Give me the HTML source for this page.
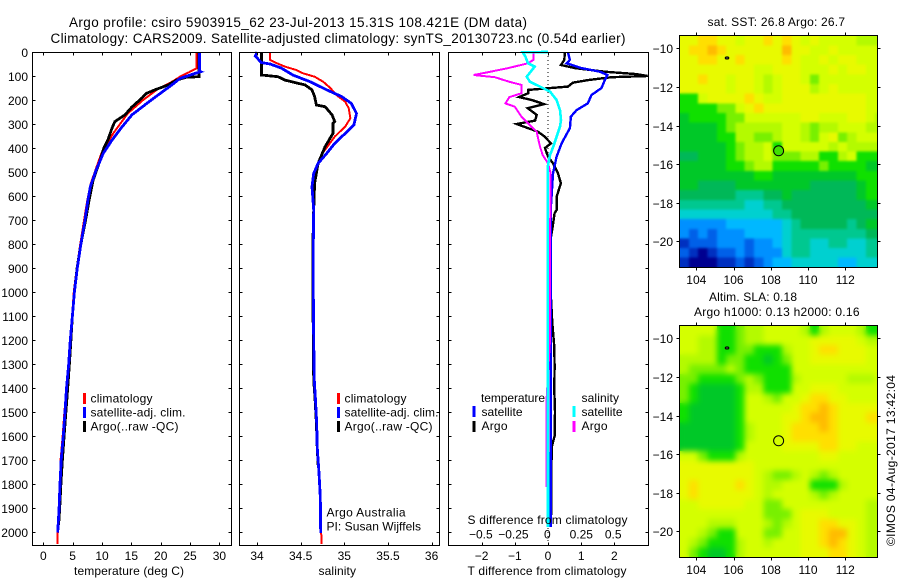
<!DOCTYPE html>
<html lang="en">
<head>
<meta charset="utf-8">
<title>Argo profile csiro 5903915_62</title>
<style>
html,body{margin:0;padding:0;background:#fff;}
svg{display:block;font-family:"Liberation Sans",sans-serif;font-size:12px;fill:#000;}
.line{fill:none;shape-rendering:crispEdges;stroke-linejoin:miter;}
.frame{fill:none;stroke:#000;stroke-width:1;shape-rendering:crispEdges;}
.tick{stroke:#000;stroke-width:1;shape-rendering:crispEdges;}
</style>
</head>
<body>
<svg id="chart" width="900" height="580" viewBox="0 0 900 580" xmlns="http://www.w3.org/2000/svg">
  <defs>
    <clipPath id="clip-sst"><rect x="679.5" y="35.5" width="198" height="232"/></clipPath>
    <clipPath id="clip-sla"><rect x="679.5" y="325.5" width="198" height="232"/></clipPath>
    <filter id="soft-sst" color-interpolation-filters="sRGB"><feGaussianBlur stdDeviation="1.2"/></filter>
    <filter id="soft-sla" color-interpolation-filters="sRGB"><feGaussianBlur stdDeviation="3"/></filter>
  </defs>
  <text x="69" y="27" font-size="13.5" textLength="458">Argo profile: csiro 5903915_62 23-Jul-2013 15.31S 108.421E (DM data)</text>
  <text x="50.5" y="43" font-size="13.5" textLength="575">Climatology: CARS2009. Satellite-adjusted climatology: synTS_20130723.nc (0.54d earlier)</text>

  <g clip-path="url(#clip-sst)">
    <g id="sst-cells"></g>
    <g filter="url(#soft-sst)"><use href="#sst-cells"/></g>
  </g>
  <g clip-path="url(#clip-sla)">
    <g id="sla-cells"></g>
    <g filter="url(#soft-sla)"><use href="#sla-cells"/></g>
  </g>
  <g id="series"></g>

  <rect class="frame" x="32.5" y="52.5" width="199" height="493"/>
  <rect class="frame" x="239.5" y="52.5" width="200" height="493"/>
  <rect class="frame" x="448.5" y="52.5" width="200" height="493"/>
  <rect class="frame" x="679.5" y="35.5" width="198" height="232"/>
  <rect class="frame" x="679.5" y="325.5" width="198" height="232"/>
  <g id="axes"></g>

  <text x="74" y="575" textLength="110">temperature (deg C)</text>
  <text x="318.5" y="575" textLength="37.5">salinity</text>
  <text x="467.5" y="575" textLength="159">T difference from climatology</text>
  <text x="467.5" y="524" textLength="160">S difference from climatology</text>

  <g>
    <rect x="83" y="393" width="3" height="11" fill="#ff0000"/>
    <rect x="83" y="407" width="3" height="11" fill="#0000ff"/>
    <rect x="83" y="421" width="3" height="11" fill="#000000"/>
    <text x="90.5" y="402.5" textLength="62">climatology</text>
    <text x="90.5" y="416.5" textLength="95">satellite-adj. clim.</text>
    <text x="90.5" y="430.5" textLength="88">Argo(..raw -QC)</text>
  </g>
  <g>
    <rect x="337" y="393" width="3" height="11" fill="#ff0000"/>
    <rect x="337" y="407" width="3" height="11" fill="#0000ff"/>
    <rect x="337" y="421" width="3" height="11" fill="#000000"/>
    <text x="344.5" y="402.5" textLength="62">climatology</text>
    <text x="344.5" y="416.5" textLength="94">satellite-adj. clim.</text>
    <text x="344.5" y="430.5" textLength="88">Argo(..raw -QC)</text>
    <text x="326.5" y="516.5" textLength="79">Argo Australia</text>
    <text x="326.5" y="530.5" textLength="94.5">PI: Susan Wijffels</text>
  </g>
  <g>
    <text x="481" y="402" textLength="64">temperature</text>
    <rect x="472.5" y="406" width="3" height="11" fill="#0000ff"/>
    <rect x="472.5" y="421" width="3" height="11" fill="#000000"/>
    <text x="481.5" y="416" textLength="41">satellite</text>
    <text x="481.5" y="430" textLength="26">Argo</text>
    <text x="581.5" y="402" textLength="37.5">salinity</text>
    <rect x="572.5" y="406" width="3" height="11" fill="#00ffff"/>
    <rect x="572.5" y="421" width="3" height="11" fill="#ff00ff"/>
    <text x="581.5" y="416" textLength="41">satellite</text>
    <text x="581.5" y="430" textLength="26">Argo</text>
  </g>

  <text x="707.5" y="26" textLength="137.5">sat. SST: 26.8 Argo: 26.7</text>
  <text x="709" y="301" textLength="88">Altim. SLA: 0.18</text>
  <text x="694" y="316" textLength="165.5">Argo h1000: 0.13 h2000: 0.16</text>
  <text transform="translate(895 546) rotate(-90)" x="0" y="0" textLength="171">©IMOS 04-Aug-2017 13:42:04</text>
</svg>

<script>
/* ---------- depth axis ---------- */
const depthTicks = [0,100,200,300,400,500,600,700,800,900,1000,1100,1200,1300,1400,1500,1600,1700,1800,1900,2000];

/* ---------- temperature panel ---------- */
const temperatureTicks = [0,5,10,15,20,25,30];
const tempClimDepth = [0,68,82,103,124,158,200,256,339,423,477,548,617,700,800,900,1000,1100,1200,1300,1400,1500,1600,1700,1800,1900,2000,2050];
const tempClimValues = [26.1,26.1,25,23.3,21.9,19.3,17,14.4,11.9,9.9,9.1,8.1,7.5,6.95,6.3,5.7,5.2,4.9,4.55,4.3,3.95,3.6,3.3,2.95,2.85,2.7,2.45,2.4];
const tempArgoDepth = [0,103,105,117,137,158,172,192,229,262,290,317,367,400,450,533,617,700,800,900,1000,1100,1200,1300,1400,1500,1600,1700,1800,1900,1970];
const tempArgoValues = [26.5,26.5,24.4,22.7,21.3,19,17.6,16.8,15.1,13.9,12.2,11.7,11,10.3,9.7,8.5,7.8,7.2,6.4,5.75,5.3,4.95,4.7,4.45,4.15,3.85,3.55,3.25,3,2.8,2.6];
const tempSatDepth = [0,80,82,96,110,137,173,215,262,312,367,423,492,562,617,700,800,900,1000,1100,1200,1300,1400,1500,1600,1700,1800,1900,2003];
const tempSatValues = [26.6,26.6,26.8,25,23.3,21.9,19.9,17.6,15.1,13.4,11.7,10.2,9,8,7.6,7.1,6.4,5.8,5.3,4.95,4.6,4.33,3.95,3.7,3.4,3.05,2.85,2.7,2.45];

/* ---------- salinity panel ---------- */
const salinityTicks = [34,34.5,35,35.5,36];
const salClimDepth = [0,33,47,61,75,89,103,124,150,179,207,234,276,311,353,422,464,547,658,800,1000,1200,1367,1450,1547,1646,1754,1854,2004,2050];
const salClimValues = [34.15,34.15,34.23,34.32,34.45,34.53,34.66,34.76,34.84,34.91,35.01,35.05,35.07,35.01,34.89,34.75,34.7,34.66,34.65,34.645,34.645,34.65,34.66,34.67,34.685,34.69,34.71,34.725,34.735,34.74];
const salArgoDepth = [0,96,103,117,128,137,158,186,221,228,262,290,297,339,358,394,429,464,547,658,800,1000,1200,1367,1450,1547,1646,1720];
const salArgoValues = [34.05,34.05,34.24,34.32,34.44,34.55,34.63,34.66,34.68,34.78,34.86,34.89,34.87,34.87,34.84,34.78,34.74,34.7,34.66,34.65,34.64,34.64,34.645,34.65,34.665,34.68,34.69,34.7];
const salSatDepth = [0,17,44,50,67,96,124,158,186,214,256,304,339,381,422,464,506,561,658,800,1000,1200,1367,1450,1547,1646,1754,1854,2004];
const salSatValues = [34,33.98,34.05,34.15,34.28,34.41,34.61,34.8,34.97,35.08,35.14,35.11,35.01,34.89,34.8,34.7,34.65,34.63,34.65,34.645,34.645,34.65,34.656,34.67,34.684,34.69,34.71,34.725,34.73];

/* ---------- difference panel ---------- */
const tDiffTicks = [-2,-1,0,1,2];
const sDiffLabels = ["\u22120.5","\u22120.25","0","0.25","0.5"];
const sDiffLabelValues = [-0.505,-0.26,-0.005,0.25,0.49];
const zeroLineValues = [0,0];
const zeroLineDepth = [0,2050];
const tDiffArgoDepth = [0,33,54,67,82,92,100,105,117,128,144,158,172,188,200,217,234,262,286,300,313,332,353,381,400,436,464,506,547,603,658,672,729,811,950,1129,1228,1311,1408,1500,1600,1646,1800,1962];
const tDiffArgoValues = [0.51,0.49,0.39,0.81,1.71,2.66,3,1.91,1.2,0.75,0.6,-0.6,-0.6,-0.87,-0.49,-0.12,-0.61,-0.34,-0.39,-0.94,-0.69,-0.3,-0.1,0.09,-0.09,0,0.15,0.3,0.39,0.26,0.26,0.2,0.14,0.04,0.06,0.13,0.19,0.2,0.19,0.21,0.2,0.11,0.1,0.09];
const tDiffSatDepth = [0,33,47,67,82,96,117,150,179,214,242,269,317,381,436,506,658,800,1000,1200,1400,1600,1800,1980];
const tDiffSatValues = [0.6,0.66,0.56,1.01,1.56,1.79,1.71,1.61,1.31,1.2,0.86,0.69,0.66,0.41,0.26,0.15,0.08,0.08,0.08,0.08,0.08,0.08,0.08,0.08];
const sDiffArgoDepth = [0,33,47,67,84,96,105,124,137,172,188,214,228,269,297,332,358,394,429,464,506,658,900,1200,1437,1812];
const sDiffArgoValues = [-0.11,-0.11,-0.15,-0.3,-0.45,-0.56,-0.4,-0.29,-0.2,-0.2,-0.29,-0.32,-0.25,-0.2,-0.15,-0.085,-0.075,-0.06,-0.04,0,0.02,0.017,0.015,0.015,-0.01,-0.01];
const sDiffSatDepth = [0,1,19,47,61,82,103,124,144,165,200,242,283,311,353,394,429,478,658,1000,1400,1700,1980];
const sDiffSatValues = [0,-0.19,-0.17,-0.15,-0.1,-0.13,-0.16,-0.135,-0.06,0.015,0.065,0.09,0.098,0.09,0.065,0.04,0.015,-0.002,-0.003,-0.003,-0.003,0,0];

/* ---------- map data (colour-level index per 0.5 degree cell) ---------- */
const lonTicks = [104,106,108,110,112];
const latTicks = [-10,-12,-14,-16,-18,-20];
const profileLon = [108.42];
const profileLat = [-15.31];
const otherFloatLon = [105.65];
const otherFloatLat = [-10.5];
const colourLevels = ["#000090","#0030c0","#0060e8","#0090ff","#00b8ff","#00d0d0","#00c890","#00b858","#00c828","#10e000","#78f000","#b4fa00","#d4ff00","#e8fa00","#ffdf00","#ffbb00"];
const sstCells = [
[13,13,14,14,13,13,12,13,13,14,13,14,13,12,13,12,12,12,12,11,11,11],
[13,14,14,15,14,13,13,13,13,13,13,15,13,13,12,12,13,12,12,12,12,12],
[13,13,14,14,13,13,14,13,13,13,13,14,13,12,12,13,12,13,13,12,12,12],
[13,13,13,13,13,13,13,13,12,12,13,13,13,12,12,12,13,12,13,13,12,12],
[13,13,14,13,13,12,13,13,12,11,12,13,13,12,10,12,12,12,12,12,12,12],
[13,13,13,13,13,12,13,13,12,11,12,13,13,13,11,12,13,12,12,12,12,12],
[9,9,12,13,13,13,13,14,13,12,12,13,13,13,13,13,13,13,13,13,12,12],
[9,9,9,9,10,10,12,13,14,13,13,13,13,13,13,13,13,13,13,13,12,12],
[8,9,9,9,9,10,10,12,12,12,12,12,12,13,13,12,12,12,13,13,12,11],
[8,8,8,8,9,10,11,11,11,11,11,12,12,11,10,11,11,12,12,12,11,11],
[8,8,8,8,9,9,11,11,10,10,11,12,12,11,10,12,13,10,11,12,12,12],
[8,8,8,8,8,9,10,11,11,12,9,12,12,12,12,12,11,12,11,11,11,11],
[7,7,8,8,8,9,10,11,11,12,10,10,10,11,11,9,9,11,12,9,9,9],
[8,8,8,8,8,9,9,10,11,11,9,9,9,9,9,10,9,9,9,9,8,8],
[8,8,8,8,8,8,8,8,9,9,8,8,8,8,8,8,8,8,8,9,9,9],
[8,8,7,7,7,7,8,8,8,8,8,8,8,8,7,7,7,7,7,8,9,9],
[7,7,7,7,7,7,6,6,6,7,7,8,7,7,7,7,7,7,7,8,9,9],
[6,6,6,6,6,6,6,5,5,6,6,7,7,7,7,7,7,7,7,7,8,8],
[5,5,5,5,5,5,5,5,5,5,6,6,7,7,7,7,7,7,7,7,7,7],
[3,3,3,3,3,4,4,4,4,4,4,5,6,7,7,7,7,7,6,7,8,8],
[3,2,3,2,3,3,3,4,4,4,4,5,6,6,6,6,6,6,6,6,7,7],
[1,2,2,2,3,3,3,2,3,3,4,5,6,6,5,5,6,6,5,5,6,6],
[2,1,0,1,2,2,3,2,3,3,3,5,6,6,5,5,5,5,5,5,6,6],
[1,0,0,0,1,1,2,1,2,3,4,4,5,5,5,5,5,4,4,5,5,5]
];
const slaCells = [
[12,12,12,12,9,9,10,11,11,12,12,12,12,11,9,11,12,12,12,11,9,9],
[12,12,11,11,9,9,10,11,11,12,12,12,12,12,13,13,13,13,13,12,11,11],
[12,12,11,11,9,9,10,10,9,9,9,11,12,12,13,14,14,13,13,13,12,12],
[11,11,11,11,9,10,10,9,9,8,9,10,12,12,13,13,13,13,13,13,12,12],
[11,10,10,10,10,11,10,9,9,9,9,9,12,12,12,12,12,12,12,12,12,12],
[10,10,9,9,9,9,10,11,10,9,9,9,11,12,12,12,12,12,11,11,11,12],
[10,9,8,8,8,8,9,11,11,9,9,9,12,12,13,13,13,12,12,12,12,12],
[10,9,8,8,8,8,9,12,12,11,10,12,12,13,14,14,13,13,12,12,12,12],
[9,8,8,8,8,8,9,12,12,12,12,12,13,14,14,15,14,13,13,13,13,13],
[9,8,8,8,8,8,9,12,12,12,12,13,13,14,15,15,14,13,13,13,14,14],
[8,8,8,8,8,8,9,11,12,12,12,13,14,14,14,15,14,13,13,13,13,13],
[8,8,8,8,8,8,9,11,12,12,12,13,14,14,14,14,14,13,13,13,13,13],
[8,8,8,8,8,8,9,12,12,12,12,13,13,13,13,14,14,13,13,12,12,12],
[12,12,10,9,9,9,11,12,12,12,12,12,12,12,12,13,13,12,12,12,12,12],
[13,13,13,13,13,13,13,13,12,12,12,12,12,12,12,12,12,12,12,12,12,12],
[13,13,13,13,13,13,13,13,12,11,10,10,11,12,11,10,11,12,12,12,12,12],
[13,14,13,13,13,13,14,13,12,11,11,12,12,12,9,9,9,11,12,12,12,12],
[13,14,13,13,13,13,13,13,12,11,12,12,12,12,11,10,11,12,12,12,12,12],
[12,12,13,13,13,13,13,12,12,10,10,12,12,12,12,12,12,12,12,12,11,11],
[12,12,12,12,12,12,12,12,12,10,10,10,12,13,13,13,12,12,12,12,11,11],
[12,12,12,11,11,11,12,12,12,11,10,11,12,13,13,14,14,13,13,12,11,11],
[12,12,11,10,9,9,12,12,12,10,10,12,12,13,13,14,15,15,13,12,11,11],
[12,11,10,9,9,9,11,12,12,11,12,12,12,13,13,14,15,14,13,12,11,11],
[12,10,9,8,8,9,11,12,12,12,12,12,12,13,13,13,14,14,13,12,11,11]
];

/* ---------- axis functions ---------- */
const SVG_NS = "http://www.w3.org/2000/svg";
function yDepth(d){ return 52 + 0.24 * d; }
function xTemp(v){ return 43.3 + 5.87 * v; }
function xSal(v){ return 257 + 87.3 * (v - 34); }
function xTDiff(v){ return 548 + 33.2 * v; }
function xSDiff(v){ return 548 + 133 * v; }
function xLon(v){ return 696.3 + 18.625 * (v - 104); }
function yLatTop(v){ return 48.3 + 19.3 * (-10 - v); }
function yLatBottom(v){ return 338.3 + 19.3 * (-10 - v); }
const mapLonStart = 103.1;
const mapLatStart = -9.35;
const cellDegrees = 0.5;

const seriesLayer = document.getElementById("series");
const axesLayer = document.getElementById("axes");

function drawLine(values, depths, xFn, colour, width){
  const el = document.createElementNS(SVG_NS, "polyline");
  el.setAttribute("class", "line");
  el.setAttribute("points", values.map(function(v, i){ return xFn(v).toFixed(1) + "," + yDepth(depths[i]).toFixed(1); }).join(" "));
  el.setAttribute("stroke", colour);
  el.setAttribute("stroke-width", width);
  seriesLayer.appendChild(el);
  return el;
}
function tickLine(x1, y1, x2, y2){
  const el = document.createElementNS(SVG_NS, "line");
  el.setAttribute("class", "tick");
  el.setAttribute("x1", x1); el.setAttribute("y1", y1);
  el.setAttribute("x2", x2); el.setAttribute("y2", y2);
  
  
  axesLayer.appendChild(el);
}
function tickText(str, x, y, anchor){
  const el = document.createElementNS(SVG_NS, "text");
  el.setAttribute("x", x);
  el.setAttribute("y", y);
  el.setAttribute("text-anchor", anchor);
  
  
  el.textContent = str;
  axesLayer.appendChild(el);
}
function minus(v){ return String(v).replace("-", "\u2212"); }

/* ---------- profile series ---------- */
let el;
el = drawLine(tempClimValues, tempClimDepth, xTemp, "#ff0000", 2);


el = drawLine(tempArgoValues, tempArgoDepth, xTemp, "#000000", 2.8);


el = drawLine(tempSatValues, tempSatDepth, xTemp, "#0000ff", 2.8);



el = drawLine(salClimValues, salClimDepth, xSal, "#ff0000", 2);


el = drawLine(salArgoValues, salArgoDepth, xSal, "#000000", 2.8);


el = drawLine(salSatValues, salSatDepth, xSal, "#0000ff", 2.8);



el = drawLine(zeroLineValues, zeroLineDepth, xTDiff, "#000000", 1);
el.setAttribute("stroke-dasharray", "1 3");


el = drawLine(tDiffArgoValues, tDiffArgoDepth, xTDiff, "#000000", 2.4);


el = drawLine(tDiffSatValues, tDiffSatDepth, xTDiff, "#0000ff", 2.4);


el = drawLine(sDiffArgoValues, sDiffArgoDepth, xSDiff, "#ff00ff", 2);


el = drawLine(sDiffSatValues, sDiffSatDepth, xSDiff, "#00ffff", 2.6);



/* ---------- profile axes ---------- */
const panelTop = 52.5, panelBottom = 545.5;
const panelEdges = [[32.5,231.5],[239.5,439.5],[448.5,648.5]];
panelEdges.forEach(function(edge, p){
  depthTicks.forEach(function(d){
    const y = Math.round(yDepth(d)) + 0.5;
    tickLine(edge[0], y, edge[0] + 3, y);
    tickLine(edge[1] - 3, y, edge[1], y);
    if (p === 0) tickText(String(d), 28, y + 4.5, "end");
  });
});
function xAxis(ticks, fn, labels, labelY){
  ticks.forEach(function(t, i){
    const x = Math.round(fn(t)) + 0.5;
    tickLine(x, panelTop, x, panelTop + 3);
    tickLine(x, panelBottom - 3, x, panelBottom);
    tickText(labels[i], fn(t), labelY, "middle");
  });
}
xAxis(temperatureTicks, xTemp, temperatureTicks.map(String), 560);
xAxis(salinityTicks, xSal, salinityTicks.map(String), 560);
xAxis(tDiffTicks, xTDiff, tDiffTicks.map(minus), 560);
sDiffLabels.forEach(function(label, i){
  tickText(label, xSDiff(sDiffLabelValues[i]), 538.5, "middle");
});

/* ---------- maps ---------- */
function drawCells(targetId, rows, yFn){
  const layer = document.getElementById(targetId);
  rows.forEach(function(row, r){
    row.forEach(function(level, c){
      const cell = document.createElementNS(SVG_NS, "rect");
      const x0 = xLon(mapLonStart + c * cellDegrees);
      const y0 = yFn(mapLatStart - r * cellDegrees);
      const x1 = xLon(mapLonStart + (c + 1) * cellDegrees);
      const y1 = yFn(mapLatStart - (r + 1) * cellDegrees);
      cell.setAttribute("x", x0.toFixed(2));
      cell.setAttribute("y", y0.toFixed(2));
      cell.setAttribute("width", (x1 - x0 + 0.3).toFixed(2));
      cell.setAttribute("height", (y1 - y0 + 0.3).toFixed(2));
      cell.setAttribute("fill", colourLevels[level]);
      cell.setAttribute("shape-rendering", "crispEdges");
      
      
      layer.appendChild(cell);
    });
  });
}
drawCells("sst-cells", sstCells, yLatTop);
drawCells("sla-cells", slaCells, yLatBottom);

function mapOverlay(yFn, fill){
  const dot = document.createElementNS(SVG_NS, "circle");
  dot.setAttribute("cx", xLon(profileLon[0]));
  dot.setAttribute("cy", yFn(profileLat[0]));
  dot.setAttribute("r", 5);
  dot.setAttribute("fill", fill);
  dot.setAttribute("stroke", "#000");
  dot.setAttribute("stroke-width", 1);
  
  
  axesLayer.appendChild(dot);
  const other = document.createElementNS(SVG_NS, "ellipse");
  other.setAttribute("cx", xLon(otherFloatLon[0]));
  other.setAttribute("cy", yFn(otherFloatLat[0]));
  other.setAttribute("rx", 1.8);
  other.setAttribute("ry", 1.1);
  other.setAttribute("fill", "#555");
  other.setAttribute("stroke", "#000");
  other.setAttribute("stroke-width", 1);
  
  
  axesLayer.appendChild(other);
}
mapOverlay(yLatTop, "#40e000");
mapOverlay(yLatBottom, "#d4ff00");

function mapAxes(top, bottom, yFn, labelY){
  lonTicks.forEach(function(t){
    const x = Math.round(xLon(t)) + 0.5;
    tickLine(x, top - 3, x, top);
    tickLine(x, bottom, x, bottom + 3);
    tickText(String(t), xLon(t), labelY, "middle");
  });
  latTicks.forEach(function(t){
    const y = Math.round(yFn(t)) + 0.5;
    tickLine(676.5, y, 679.5, y);
    tickLine(877.5, y, 880.5, y);
    tickText(minus(t), 673, y + 4.5, "end");
  });
}
mapAxes(35.5, 267.5, yLatTop, 284);
mapAxes(325.5, 557.5, yLatBottom, 574);
</script>
</body>
</html>
